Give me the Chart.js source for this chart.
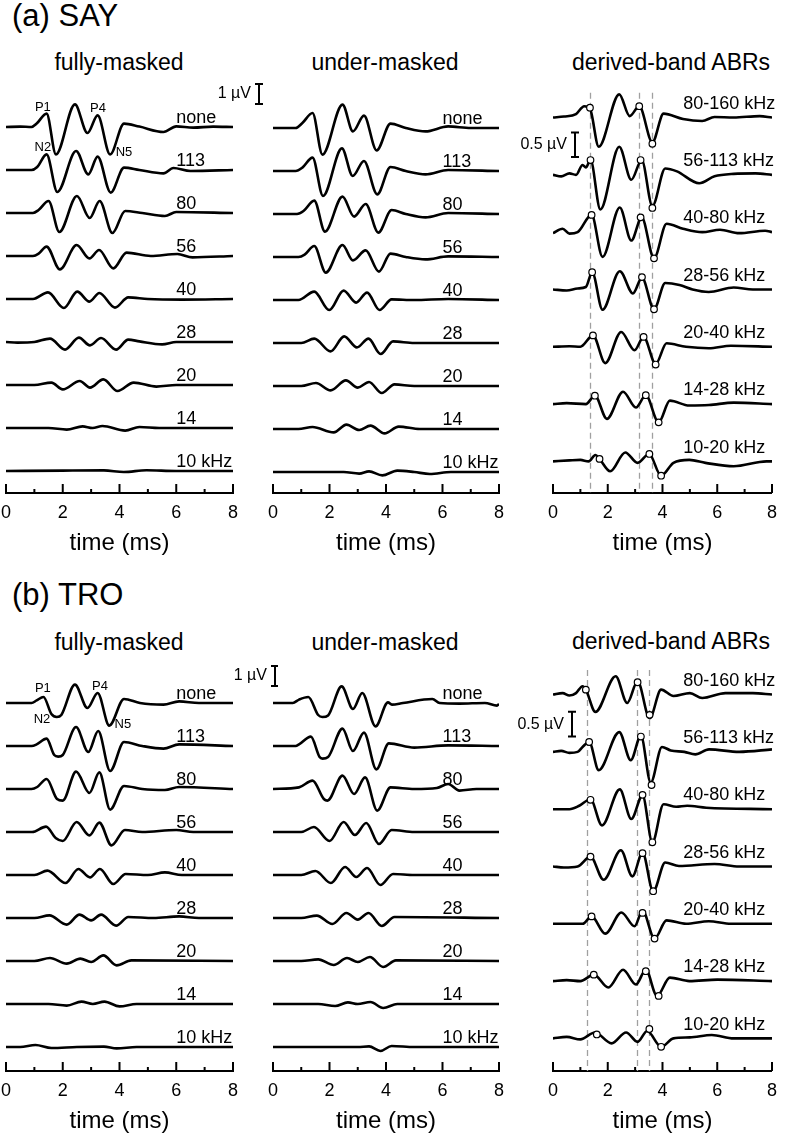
<!DOCTYPE html>
<html>
<head>
<meta charset="utf-8">
<script src="https://cdn.jsdelivr.net/npm/chart.js@4.4.1/dist/chart.umd.min.js"></script>
<style>
  body { margin: 0; width: 786px; height: 1141px; background: #fff; position: relative; overflow: hidden;
         font-family: "Liberation Sans", Arial, sans-serif; }
  canvas { position: absolute; }
  .t { position: absolute; white-space: nowrap; line-height: 1; color: #000; }
  .sub { font-size: 23px; width: 240px; text-align: center; }
</style>
</head>
<body>
<div class="t" style="left:12px;top:0px;font-size:31px">(a) SAY</div>
<div class="t sub" style="left:-1px;top:51px">fully-masked</div>
<div class="t sub" style="left:265px;top:51px">under-masked</div>
<div class="t sub" style="left:551px;top:51px">derived-band ABRs</div>

<div class="t" style="left:12px;top:579px;font-size:31px">(b) TRO</div>
<div class="t sub" style="left:-1px;top:631px">fully-masked</div>
<div class="t sub" style="left:265px;top:631px">under-masked</div>
<div class="t sub" style="left:551px;top:630px">derived-band ABRs</div>

<canvas id="saFull"></canvas>
<canvas id="saUnder"></canvas>
<canvas id="saDer"></canvas>
<canvas id="troFull"></canvas>
<canvas id="troUnder"></canvas>
<canvas id="troDer"></canvas>

<script>
// ---------- DATA (time in ms, amplitude in µV) ----------
const levelLabels = ["none", "113", "80", "56", "40", "28", "20", "14", "10 kHz"];
const bandLabels = ["80-160 kHz", "56-113 kHz", "40-80 kHz", "28-56 kHz", "20-40 kHz", "14-28 kHz", "10-20 kHz"];
const timeTicks = [0, 2, 4, 6, 8];

// (a) SAY, fully-masked: none, 113, 80, 56, 40, 28, 20, 14, 10 kHz
const sayFull = [
  [[0,0],[0.5,0.02],[0.9,0],[1.08,0.17],[1.43,0.67],[1.76,-1.37],[2.43,1.13],[2.87,-0.3],[3.23,0.58],[3.67,-1.37],[4.16,0.17],[4.7,0.02],[5.55,-0.25],[6.0,0.03],[6.6,-0.03],[7.3,0.02],[8,0]],
  [[0,0],[0.9,0],[1.1,0.15],[1.43,0.78],[1.81,-1.1],[2.47,0.95],[2.9,-0.22],[3.23,0.67],[3.69,-1.13],[4.16,0.12],[4.7,0],[5.55,-0.17],[5.9,0.1],[6.5,-0.05],[8,0]],
  [[0,0],[0.95,0],[1.15,0.15],[1.5,0.6],[1.88,-0.95],[2.5,0.85],[2.95,-0.25],[3.3,0.6],[3.75,-1.0],[4.2,0.1],[4.8,0],[5.6,-0.15],[6.0,0.05],[8,0]],
  [[0,0],[0.95,0],[1.15,0.12],[1.43,0.47],[1.9,-0.67],[2.49,0.55],[2.94,-0.12],[3.28,0.3],[3.78,-0.62],[4.25,0.17],[5.1,0],[6.04,0.1],[6.57,-0.07],[8,0]],
  [[0,0],[0.95,0],[1.48,0.33],[2.04,-0.45],[2.51,0.37],[2.94,-0.13],[3.29,0.3],[3.84,-0.43],[4.31,0.08],[5,0],[6.2,-0.03],[8,0]],
  [[0,0],[0.4,-0.03],[1.0,0],[1.55,0.17],[2.08,-0.38],[2.57,0.22],[2.96,-0.17],[3.35,0.2],[3.88,-0.38],[4.31,0.12],[4.7,0.03],[5.5,-0.12],[6,0],[8,0]],
  [[0,0],[1.0,0],[1.6,0.12],[2.0,-0.22],[2.6,0.2],[2.96,-0.13],[3.43,0.28],[3.93,-0.3],[4.5,0.12],[5.3,-0.08],[6,0],[8,0]],
  [[0,0],[1.5,0],[2.14,-0.08],[2.7,0.08],[3.05,0],[3.4,0.1],[4.2,-0.13],[4.7,0.05],[5.4,0],[8,0]],
  [[0,0],[2,0.02],[3.45,0.03],[4.15,-0.05],[4.95,0.04],[6,0],[8,0]]
];

// (a) SAY, under-masked
const sayUnder = [
  [[0,0],[0.8,0],[1.04,0.25],[1.4,0.75],[1.75,-1.33],[2.46,1.17],[2.83,-0.17],[3.22,0.62],[3.67,-1.12],[4.16,0.22],[4.7,0],[5.4,-0.17],[6.2,0.08],[7,0],[8,0]],
  [[0,0],[0.8,0],[1.04,0.17],[1.4,0.67],[1.77,-1.25],[2.44,1.13],[2.82,-0.25],[3.22,0.5],[3.69,-1.17],[4.16,0.2],[4.7,0],[5.4,-0.17],[6.2,0.05],[8,0]],
  [[0,0],[0.85,0],[1.08,0.15],[1.46,0.67],[1.84,-0.88],[2.46,0.87],[2.87,-0.13],[3.28,0.5],[3.73,-0.93],[4.2,0.2],[4.7,0],[5.4,-0.17],[6.2,0.05],[8,0]],
  [[0,0],[0.9,0],[1.12,0.12],[1.46,0.55],[1.87,-0.78],[2.46,0.6],[2.83,-0.17],[3.28,0.33],[3.75,-0.73],[4.16,0.17],[4.7,0],[5.4,-0.12],[6.2,0.03],[8,0]],
  [[0,0],[0.9,0],[1.46,0.42],[1.99,-0.5],[2.5,0.47],[2.94,-0.13],[3.33,0.37],[3.77,-0.5],[4.2,0.03],[5,0],[6.2,0.05],[8,0]],
  [[0,0],[1.0,0],[1.46,0.22],[2.04,-0.42],[2.52,0.33],[2.97,-0.22],[3.38,0.22],[3.81,-0.55],[4.25,0.08],[5,0],[8,0]],
  [[0,0],[1.0,0],[1.52,0.15],[2.04,-0.22],[2.58,0.28],[3.0,-0.08],[3.4,0.2],[3.85,-0.35],[4.3,0.08],[5,0],[8,0]],
  [[0,0],[0.9,0],[1.4,0.1],[2.15,-0.17],[2.6,0.22],[3.05,-0.05],[3.45,0.17],[3.95,-0.22],[4.45,0.12],[5.2,0],[8,0]],
  [[0,0],[2.5,0],[3.05,-0.08],[3.4,0.03],[3.87,-0.17],[4.4,0.07],[5.0,0],[5.55,-0.1],[6.3,0],[8,0]]
];

// (a) SAY, derived-band ABRs: 80-160 ... 10-20 kHz
const sayDerived = [
  [[0,0],[0.4,0.02],[0.84,0.07],[1.14,0.23],[1.35,0.18],[1.67,-0.59],[2.42,0.47],[2.8,0.03],[3.15,0.23],[3.63,-0.5],[4.04,0.08],[4.75,-0.03],[5.45,-0.07],[5.9,0.01],[6.6,0],[7.55,0.03],[8,0]],
  [[0,0],[0.3,-0.03],[0.6,0.03],[0.84,0],[1.08,0.2],[1.2,0.15],[1.37,0.3],[1.73,-0.7],[2.42,0.57],[2.86,-0.1],[3.24,0.3],[3.63,-0.63],[4.1,0.13],[4.53,0.07],[5.34,-0.17],[5.9,-0.03],[6.6,0.02],[7.4,0.03],[8,0]],
  [[0,-0.02],[0.35,0.07],[0.6,-0.03],[0.9,0],[1.41,0.35],[1.81,-0.5],[2.44,0.5],[2.86,-0.17],[3.24,0.3],[3.69,-0.53],[4.15,0.17],[4.75,0.07],[5.45,0],[6.1,0.05],[6.8,-0.02],[7.75,0.03],[8,0]],
  [[0,0],[0.5,-0.02],[0.9,0.02],[1.2,0.05],[1.43,0.35],[1.81,-0.41],[2.44,0.37],[2.92,-0.08],[3.25,0.24],[3.69,-0.4],[4.1,0.13],[4.62,0.09],[5.1,0],[5.69,-0.05],[6.6,0.04],[7.3,0],[8,0]],
  [[0,0],[0.6,0.01],[1.0,0],[1.46,0.23],[1.91,-0.33],[2.49,0.3],[2.98,-0.07],[3.31,0.2],[3.75,-0.35],[4.15,0.07],[4.86,0],[5.69,-0.03],[6.5,0.02],[8,0]],
  [[0,0],[0.5,0.02],[1.2,0],[1.53,0.17],[1.97,-0.3],[2.56,0.25],[3.03,-0.07],[3.39,0.18],[3.86,-0.37],[4.27,0.07],[4.98,-0.03],[5.7,-0.02],[6.6,0.03],[8,0]],
  [[0,0],[0.6,0.02],[1.0,0.03],[1.3,0],[1.55,0.13],[1.7,0.05],[2.09,-0.2],[2.64,0.18],[3.09,-0.03],[3.51,0.15],[3.95,-0.29],[4.4,-0.03],[4.98,0.03],[5.57,-0.03],[6.6,-0.1],[7.8,0],[8,0]]
];
const sayP1 = [[1.35,0.2],[1.37,0.3],[1.41,0.35],[1.43,0.35],[1.46,0.23],[1.53,0.17],[1.7,0.05]];
const sayP4 = [[3.15,0.23],[3.2,0.3],[3.2,0.3],[3.25,0.25],[3.31,0.2],[3.39,0.18],[3.52,0.15]];
const sayN5 = [[3.63,-0.53],[3.63,-0.67],[3.69,-0.53],[3.69,-0.4],[3.75,-0.36],[3.86,-0.37],[3.95,-0.29]];
const sayDashTimes = [1.35, 3.15, 3.62];

// (b) TRO, fully-masked
const troFull = [
  [[0,0],[0.9,0],[1.08,0.13],[1.32,0.3],[1.6,-0.55],[1.79,-0.7],[1.95,-0.6],[2.43,0.92],[2.87,-0.25],[3.23,0.5],[3.64,-1.13],[4.16,0.2],[4.72,0],[5.55,-0.08],[6.1,0.08],[6.8,0],[8,0]],
  [[0,0],[0.9,0],[1.08,0.08],[1.43,0.37],[1.7,-0.45],[1.84,-0.53],[2.0,-0.45],[2.47,0.95],[2.9,-0.3],[3.25,0.75],[3.67,-1.25],[4.16,0.2],[4.8,0],[5.55,-0.13],[6.1,0.08],[8,0]],
  [[0,0],[0.9,0],[1.1,0.1],[1.43,0.5],[1.8,-0.5],[2.0,-0.58],[2.47,0.87],[2.94,-0.2],[3.29,0.83],[3.67,-1.03],[4.16,0.15],[4.8,0],[5.6,-0.05],[6.1,0.1],[8,0]],
  [[0,0],[0.92,0],[1.41,0.27],[1.75,-0.3],[2.0,-0.45],[2.49,0.5],[2.94,-0.17],[3.29,0.47],[3.72,-0.67],[4.19,0.1],[4.8,0],[6.0,0.1],[6.6,0],[8,0]],
  [[0,0],[1.0,0],[1.46,0.22],[2.1,-0.4],[2.55,0.3],[2.96,-0.12],[3.31,0.3],[3.78,-0.45],[4.22,0.05],[5.0,0],[5.6,0.13],[6.2,0],[8,0]],
  [[0,0],[1.0,0],[1.53,0.13],[2.14,-0.33],[2.59,0.17],[3.0,-0.12],[3.35,0.17],[3.88,-0.38],[4.31,0.05],[5.2,0],[6.1,0.08],[6.8,0],[8,0]],
  [[0,0],[1.0,0],[1.55,0.15],[2.14,-0.13],[2.62,0.12],[3.0,-0.05],[3.43,0.28],[3.9,-0.22],[4.42,0.03],[8,0]],
  [[0,0],[1.5,0],[2.14,-0.08],[2.66,0.12],[3.06,0],[3.47,0.12],[4.0,-0.12],[4.6,0],[8,0]],
  [[0,0],[0.5,0],[1.04,0.1],[1.6,-0.05],[2.5,0],[3.45,0.02],[3.9,-0.07],[4.6,0],[8,0]]
];

// (b) TRO, under-masked
const troUnder = [
  [[0,0],[0.7,0],[0.92,0.17],[1.25,0.3],[1.6,-0.6],[1.75,-0.7],[1.95,-0.62],[2.43,0.83],[2.83,-0.3],[3.16,0.5],[3.63,-1.17],[4.07,0.03],[4.21,-0.08],[4.6,0],[5.64,0.2],[5.9,0],[6.6,-0.03],[7.5,0],[7.93,-0.13],[8,-0.05]],
  [[0,0],[0.8,0],[0.92,0.08],[1.34,0.47],[1.65,-0.55],[1.75,-0.63],[1.95,-0.55],[2.46,0.87],[2.83,-0.25],[3.22,0.67],[3.66,-1.17],[4.1,0.13],[5.0,-0.08],[6.2,0.03],[8,0]],
  [[0,0],[0.92,0.08],[1.4,0.42],[1.8,-0.5],[1.93,-0.58],[2.46,0.67],[2.87,-0.25],[3.26,0.58],[3.69,-1.08],[4.16,0.08],[5.0,0],[5.8,0.05],[6.2,0.25],[6.6,-0.08],[7.2,0],[8,0]],
  [[0,0],[1.0,0],[1.45,0.25],[2.0,-0.45],[2.5,0.5],[2.9,-0.15],[3.3,0.45],[3.75,-0.6],[4.2,0.1],[5.0,0],[8,0]],
  [[0,0],[1.0,0],[1.5,0.2],[2.05,-0.4],[2.55,0.4],[2.95,-0.1],[3.33,0.35],[3.8,-0.5],[4.25,0.05],[5.0,0],[8,0]],
  [[0,0],[1.0,0],[1.55,0.12],[2.1,-0.3],[2.6,0.25],[3.0,-0.08],[3.38,0.25],[3.85,-0.4],[4.3,0.05],[8,0]],
  [[0,0],[1.0,0],[1.6,0.08],[2.15,-0.2],[2.62,0.15],[3.0,-0.05],[3.43,0.2],[3.9,-0.3],[4.35,0.03],[8,0]],
  [[0,0],[1.6,0],[2.2,-0.1],[2.65,0.08],[3.0,0],[3.45,0.1],[3.9,-0.2],[4.4,0],[8,0]],
  [[0,0],[3.0,0],[3.4,0.03],[3.8,-0.2],[4.2,0.05],[5.0,0],[8,0]]
];

// (b) TRO, derived-band ABRs
const troDerived = [
  [[0,0],[0.35,0.03],[0.6,-0.02],[0.84,0.03],[1.08,0.17],[1.2,0.1],[1.55,-0.35],[2.29,0.37],[2.71,-0.17],[3.09,0.27],[3.53,-0.48],[3.95,0.1],[4.4,-0.03],[5.0,0.03],[5.45,-0.07],[6.3,0.03],[7.3,0.03],[8,0]],
  [[0,0],[0.3,0.02],[0.6,-0.02],[0.9,0],[1.08,0.1],[1.32,0.2],[1.67,-0.37],[2.42,0.4],[2.84,-0.17],[3.21,0.33],[3.57,-0.62],[3.98,0.1],[4.3,0.03],[4.8,0],[5.2,-0.05],[5.7,0.05],[6.8,0],[8,0.05]],
  [[0,0],[0.6,0],[0.96,0.07],[1.37,0.2],[1.79,-0.33],[2.44,0.4],[2.86,-0.2],[3.27,0.28],[3.63,-0.67],[4.04,0.1],[4.5,0.05],[4.9,0.07],[5.6,0.03],[8,0]],
  [[0,0],[0.4,-0.02],[0.9,0],[1.37,0.2],[1.85,-0.27],[2.48,0.33],[2.9,-0.2],[3.27,0.28],[3.66,-0.5],[4.1,0.08],[4.6,0.01],[5.9,0.05],[6.8,0],[8,0]],
  [[0,0],[1.08,0],[1.41,0.15],[1.91,-0.2],[2.5,0.23],[2.98,-0.05],[3.27,0.27],[3.71,-0.3],[4.15,0.07],[4.86,0],[5.69,0.05],[6.5,0],[8,0]],
  [[0,0],[0.5,0.02],[1.0,0],[1.49,0.13],[2.02,-0.13],[2.56,0.23],[3.03,-0.07],[3.39,0.23],[3.8,-0.3],[4.27,0.07],[4.98,0],[6.0,0.03],[8,0]],
  [[0,0],[0.5,0.03],[1.0,-0.02],[1.53,0.12],[2.14,-0.1],[2.67,0.12],[3.09,-0.07],[3.44,0.15],[3.95,-0.17],[4.4,0],[5.0,0.02],[5.8,0.07],[6.6,0],[8,0]]
];
const troP1 = [[1.2,0.1],[1.32,0.2],[1.37,0.19],[1.37,0.2],[1.41,0.15],[1.49,0.13],[1.6,0.08]];
const troP4 = [[3.09,0.25],[3.21,0.31],[3.27,0.29],[3.27,0.27],[3.27,0.22],[3.39,0.2],[3.52,0.19]];
const troN5 = [[3.53,-0.41],[3.6,-0.67],[3.63,-0.67],[3.66,-0.5],[3.71,-0.3],[3.86,-0.3],[3.95,-0.17]];
const troDashTimes = [1.25, 3.08, 3.5];

// ---------- LAYOUT ----------
const FONT = '"Liberation Sans", Arial, sans-serif';
Chart.defaults.font.family = FONT;
Chart.defaults.color = "#000";

const X_AXIS_H = 40;     // height reserved for the tick labels
const BELOW_AXIS = 40;   // room under them for the axis title

// decorations: upward ticks, axis title, trace labels, peak names, scale bar, dashed latency lines
const abrDecor = {
  id: "abrDecor",
  beforeDatasetsDraw(chart, args, o) {
    if (!o.dashTimes) return;
    const { ctx, chartArea, scales: { x, y } } = chart;
    ctx.save();
    ctx.strokeStyle = "#a0a0a0";
    ctx.lineWidth = 1.3;
    ctx.setLineDash([6, 4]);
    const top = y.getPixelForValue(o.dashTop);
    o.dashTimes.forEach(t => {
      const px = Math.round(x.getPixelForValue(t)) + 0.5;
      ctx.beginPath(); ctx.moveTo(px, top); ctx.lineTo(px, chartArea.bottom); ctx.stroke();
    });
    ctx.restore();
  },
  afterDraw(chart, args, o) {
    const { ctx, chartArea, scales: { x, y } } = chart;
    ctx.save();
    ctx.strokeStyle = "#000";
    ctx.lineWidth = 2;
    for (let t = 0; t <= 8; t++) {
      const px = x.getPixelForValue(t);
      ctx.beginPath(); ctx.moveTo(px, chartArea.bottom); ctx.lineTo(px, chartArea.bottom - (t % 2 ? 4 : 9)); ctx.stroke();
    }
    ctx.fillStyle = "#000";
    ctx.textBaseline = "middle";
    ctx.textAlign = "center";
    ctx.font = "24px " + FONT;
    ctx.fillText("time (ms)", (chartArea.left + chartArea.right) / 2, chartArea.bottom + 50);

    ctx.font = "18px " + FONT;
    ctx.textAlign = "left";
    o.labels.forEach((lab, i) => {
      ctx.fillText(lab, x.getPixelForValue(o.labelAt), y.getPixelForValue(o.offsets[i] + o.labelLift));
    });
    if (o.peaks) {
      ctx.font = "13px " + FONT;
      ctx.textAlign = "center";
      o.peaks.forEach(p => ctx.fillText(p.text, x.getPixelForValue(p.t), y.getPixelForValue(p.v)));
    }
    const b = o.bar;
    if (b) {
      const bx = Math.round(x.getPixelForValue(b.t));
      const y1 = y.getPixelForValue(b.v + b.len / 2), y2 = y.getPixelForValue(b.v - b.len / 2);
      ctx.beginPath();
      ctx.moveTo(bx, y1); ctx.lineTo(bx, y2);
      ctx.moveTo(bx - 4, y1); ctx.lineTo(bx + 4, y1);
      ctx.moveTo(bx - 4, y2); ctx.lineTo(bx + 4, y2);
      ctx.stroke();
      ctx.font = "16px " + FONT;
      ctx.textAlign = "right";
      ctx.fillText(b.text, bx - 8, (y1 + y2) / 2);
    }
    ctx.restore();
  }
};

function makePanel(id, box, traces, labels, extra) {
  const cv = document.getElementById(id);
  const height = box.axisY - box.top + X_AXIS_H + BELOW_AXIS;
  cv.width = box.width; cv.height = height;
  cv.style.left = box.left + "px"; cv.style.top = box.top + "px";

  const yMax = (box.base0 - box.top) / box.pxUv;
  const yMin = (box.base0 - box.axisY) / box.pxUv;
  const offsets = traces.map((_, i) => -i * box.gap / box.pxUv);

  const datasets = traces.map((tr, i) => ({
    type: "line",
    data: tr.map(p => ({ x: p[0], y: p[1] + offsets[i] })),
    borderColor: "#000",
    borderWidth: 2.6,
    pointRadius: 0,
    cubicInterpolationMode: "monotone",
    fill: false,
    order: 1
  }));

  if (extra.markers) {
    const pts = [];
    extra.markers.forEach(list => list.forEach((p, i) => pts.push({ x: p[0], y: p[1] + offsets[i] })));
    datasets.push({
      type: "scatter",
      data: pts,
      pointRadius: 3.3,
      pointBackgroundColor: "#fff",
      pointBorderColor: "#000",
      pointBorderWidth: 1.2,
      order: 0
    });
  }

  new Chart(cv, {
    type: "line",
    data: { datasets },
    options: {
      responsive: false,
      animation: false,
      events: [],
      layout: { padding: { left: box.padL, right: box.padR, top: 0, bottom: BELOW_AXIS } },
      scales: {
        x: {
          type: "linear",
          min: 0, max: 8,
          grid: { display: false, drawTicks: false },
          border: { display: true, color: "#000", width: 2 },
          afterBuildTicks: s => { s.ticks = timeTicks.map(v => ({ value: v })); },
          afterFit: s => { s.height = X_AXIS_H; },
          ticks: { font: { size: 18 }, color: "#000", padding: 9, maxRotation: 0, autoSkip: false }
        },
        y: { display: false, min: yMin, max: yMax }
      },
      plugins: {
        legend: { display: false },
        tooltip: { enabled: false },
        abrDecor: {
          labels, offsets,
          labelAt: extra.labelAt, labelLift: extra.labelLift,
          peaks: extra.peaks, bar: extra.bar,
          dashTimes: extra.dashTimes, dashTop: 0.5
        }
      }
    },
    plugins: [abrDecor]
  });
}

const fullBox = (top, axisY, base0) => ({ left: -10, top, width: 288, padL: 16, padR: 45, axisY, base0, gap: 43, pxUv: 20 });
const underBox = (top, axisY, base0) => ({ left: 257, top, width: 258, padL: 16, padR: 16, axisY, base0, gap: 43, pxUv: 20 });
const derBox = (top, axisY, base0) => ({ left: 513, top, width: 273, padL: 40, padR: 8, axisY, base0, gap: 58, pxUv: 50 });

makePanel("saFull", fullBox(60, 493, 127), sayFull, levelLabels, {
  labelAt: 6.0, labelLift: 0.45,
  peaks: [{ text: "P1", t: 1.3, v: 1.0 }, { text: "P4", t: 3.24, v: 0.95 }, { text: "N2", t: 1.3, v: -1.0 }, { text: "N5", t: 4.16, v: -1.25 }],
  bar: { t: 8.92, v: 1.65, len: 1, text: "1 µV" }
});
makePanel("saUnder", underBox(60, 493, 128), sayUnder, levelLabels, {
  labelAt: 6.0, labelLift: 0.45
});
makePanel("saDer", derBox(60, 493, 113), sayDerived, bandLabels, {
  labelAt: 4.76, labelLift: 0.28,
  markers: [sayP1, sayP4, sayN5],
  dashTimes: sayDashTimes,
  bar: { t: 0.82, v: -0.55, len: 0.5, text: "0.5 µV" }
});

makePanel("troFull", fullBox(638, 1071, 703), troFull, levelLabels, {
  labelAt: 6.0, labelLift: 0.45,
  peaks: [{ text: "P1", t: 1.3, v: 0.75 }, { text: "P4", t: 3.31, v: 0.85 }, { text: "N2", t: 1.27, v: -0.8 }, { text: "N5", t: 4.12, v: -1.05 }],
  bar: { t: 9.48, v: 1.35, len: 1, text: "1 µV" }
});
makePanel("troUnder", underBox(638, 1071, 703), troUnder, levelLabels, {
  labelAt: 6.0, labelLift: 0.45
});
makePanel("troDer", derBox(638, 1071, 690), troDerived, bandLabels, {
  labelAt: 4.76, labelLift: 0.28,
  markers: [troP1, troP4, troN5],
  dashTimes: troDashTimes,
  bar: { t: 0.68, v: -0.6, len: 0.5, text: "0.5 µV" }
});
</script>
</body>
</html>
